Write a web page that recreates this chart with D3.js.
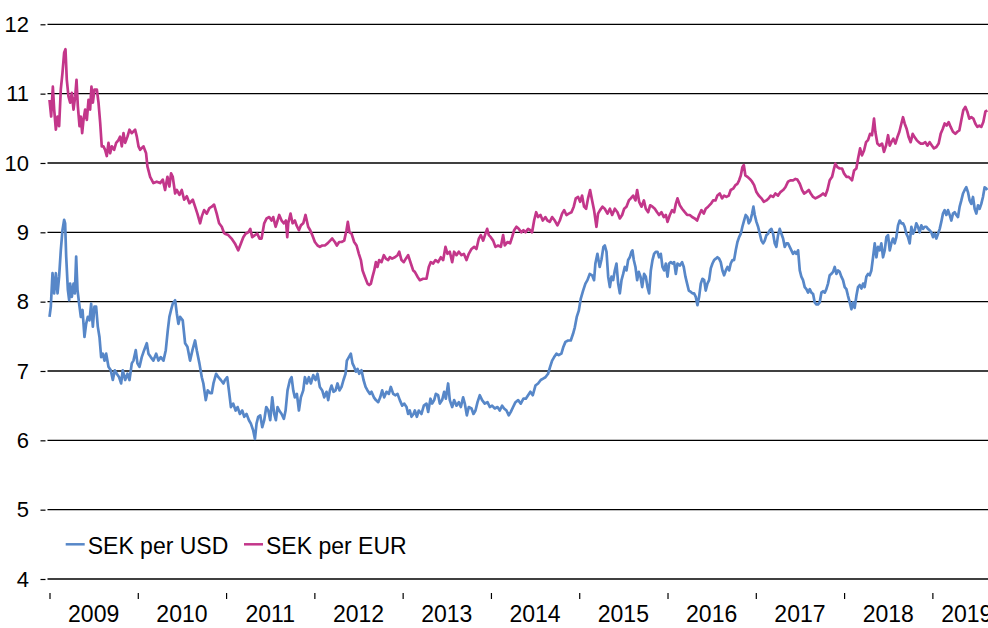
<!DOCTYPE html>
<html>
<head>
<meta charset="utf-8">
<script src="https://cdn.jsdelivr.net/npm/d3@7"></script>
<style>
  body { margin: 0; background: #fff; }
  svg { display: block; font-family: "Liberation Sans", Arial, sans-serif; }
</style>
</head>
<body>
<div id="chart"></div>
<script>
// [decimal year, SEK]
const sekPerUsd = [
  [2009.000,7.78],[2009.015,7.93],[2009.034,8.41],[2009.053,8.12],[2009.072,8.41],[2009.091,8.12],[2009.109,8.36],[2009.128,8.74],
  [2009.147,9.03],[2009.166,9.18],[2009.177,9.13],[2009.189,8.65],[2009.208,8.17],[2009.223,8.02],[2009.234,8.26],[2009.253,8.07],
  [2009.272,8.26],[2009.287,8.12],[2009.302,8.65],[2009.317,8.17],[2009.336,7.97],[2009.355,7.78],[2009.374,7.88],[2009.396,7.49],
  [2009.415,7.68],[2009.434,7.78],[2009.453,7.73],[2009.472,7.97],[2009.491,7.64],[2009.509,7.93],[2009.528,7.93],[2009.547,7.64],
  [2009.566,7.49],[2009.585,7.20],[2009.604,7.25],[2009.623,7.15],[2009.642,7.25],[2009.668,7.06],[2009.694,7.01],[2009.717,6.87],
  [2009.740,7.01],[2009.762,6.96],[2009.789,6.91],[2009.811,6.82],[2009.830,7.01],[2009.857,6.87],[2009.883,6.96],[2009.906,6.87],
  [2009.932,7.11],[2009.951,7.15],[2009.977,7.30],[2009.996,7.11],[2010.019,7.06],[2010.045,7.20],[2010.072,7.30],[2010.102,7.40],
  [2010.121,7.25],[2010.147,7.20],[2010.177,7.15],[2010.208,7.25],[2010.234,7.15],[2010.260,7.20],[2010.291,7.15],[2010.317,7.30],
  [2010.340,7.59],[2010.358,7.78],[2010.377,7.88],[2010.396,7.97],[2010.423,8.02],[2010.442,7.83],[2010.460,7.68],[2010.479,7.78],
  [2010.509,7.73],[2010.536,7.40],[2010.562,7.35],[2010.592,7.15],[2010.619,7.30],[2010.649,7.44],[2010.668,7.30],[2010.698,7.11],
  [2010.725,6.91],[2010.743,6.82],[2010.770,6.58],[2010.792,6.72],[2010.819,6.68],[2010.838,6.68],[2010.857,6.82],[2010.887,6.96],
  [2010.913,6.91],[2010.940,6.87],[2010.970,6.82],
  [2010.987,6.87],[2011.013,6.91],[2011.032,6.72],[2011.055,6.48],[2011.081,6.53],[2011.108,6.43],[2011.130,6.48],[2011.157,6.38],
  [2011.183,6.43],[2011.206,6.34],[2011.232,6.38],[2011.259,6.29],[2011.281,6.24],[2011.308,6.14],[2011.327,6.02],[2011.345,6.24],
  [2011.364,6.34],[2011.387,6.36],[2011.410,6.19],[2011.432,6.29],[2011.455,6.48],[2011.478,6.43],[2011.500,6.29],[2011.523,6.62],
  [2011.545,6.38],[2011.564,6.29],[2011.583,6.48],[2011.602,6.43],[2011.629,6.38],[2011.655,6.31],[2011.674,6.43],[2011.696,6.72],
  [2011.723,6.87],[2011.742,6.91],[2011.761,6.72],[2011.779,6.62],[2011.802,6.67],[2011.825,6.43],[2011.847,6.62],[2011.874,6.72],
  [2011.893,6.91],[2011.915,6.82],[2011.938,6.91],[2011.961,6.82],[2011.987,6.94],[2012.013,6.87],[2012.036,6.96],[2012.062,6.77],
  [2012.089,6.72],[2012.112,6.62],[2012.138,6.70],[2012.157,6.58],[2012.176,6.72],[2012.195,6.79],[2012.217,6.70],[2012.240,6.72],
  [2012.262,6.82],[2012.285,6.72],[2012.308,6.77],[2012.330,6.87],[2012.353,6.96],[2012.368,7.15],[2012.391,7.20],[2012.413,7.25],
  [2012.432,7.11],[2012.451,7.06],[2012.470,6.99],[2012.489,7.03],[2012.508,6.96],[2012.534,7.01],[2012.557,6.87],[2012.580,6.77],
  [2012.602,6.72],[2012.629,6.67],[2012.647,6.70],[2012.674,6.62],[2012.697,6.58],[2012.723,6.55],[2012.746,6.62],[2012.768,6.72],
  [2012.791,6.62],[2012.817,6.70],[2012.844,6.67],[2012.866,6.77],[2012.893,6.67],[2012.919,6.65],[2012.942,6.67],[2012.968,6.58],
  [2012.995,6.50],[2013.017,6.53],[2013.044,6.48],[2013.062,6.38],[2013.081,6.43],[2013.100,6.34],[2013.123,6.38],
  [2013.138,6.43],[2013.161,6.34],[2013.183,6.43],[2013.213,6.38],[2013.240,6.50],[2013.270,6.53],[2013.289,6.41],[2013.315,6.60],
  [2013.334,6.53],[2013.357,6.58],[2013.376,6.67],[2013.402,6.65],[2013.421,6.53],[2013.447,6.58],[2013.470,6.70],[2013.489,6.60],
  [2013.515,6.82],[2013.534,6.58],[2013.561,6.48],[2013.583,6.58],[2013.610,6.50],[2013.636,6.55],[2013.659,6.48],[2013.685,6.62],
  [2013.704,6.53],[2013.727,6.36],[2013.749,6.48],[2013.780,6.46],[2013.802,6.38],[2013.825,6.43],[2013.848,6.55],[2013.874,6.65],
  [2013.900,6.58],[2013.930,6.53],[2013.961,6.55],[2013.987,6.48],[2014.013,6.50],[2014.044,6.46],[2014.074,6.48],[2014.100,6.43],
  [2014.127,6.50],[2014.149,6.46],[2014.176,6.43],[2014.202,6.36],[2014.225,6.41],[2014.251,6.48],[2014.278,6.55],[2014.308,6.58],
  [2014.338,6.53],[2014.368,6.60],[2014.395,6.60],[2014.421,6.65],[2014.447,6.70],[2014.474,6.65],[2014.504,6.79],[2014.534,6.82],
  [2014.564,6.87],[2014.591,6.89],[2014.617,6.91],[2014.647,6.96],[2014.670,7.06],[2014.693,7.15],[2014.716,7.20],[2014.742,7.25],
  [2014.768,7.23],[2014.798,7.25],[2014.821,7.35],[2014.844,7.42],[2014.874,7.44],[2014.904,7.44],[2014.931,7.54],[2014.950,7.63],
  [2014.972,7.78],[2014.995,7.87],[2015.017,8.04],[2015.044,8.16],[2015.070,8.26],[2015.093,8.31],[2015.119,8.40],[2015.146,8.38],
  [2015.168,8.31],[2015.183,8.55],[2015.206,8.69],[2015.232,8.50],[2015.251,8.60],[2015.274,8.79],
  [2015.290,8.81],[2015.309,8.72],[2015.328,8.36],[2015.347,8.21],[2015.365,8.36],[2015.384,8.31],[2015.403,8.45],[2015.422,8.55],
  [2015.441,8.26],[2015.460,8.12],[2015.479,8.31],[2015.498,8.40],[2015.516,8.50],[2015.535,8.45],[2015.554,8.60],[2015.573,8.64],
  [2015.592,8.72],[2015.603,8.74],[2015.618,8.60],[2015.637,8.50],[2015.656,8.31],[2015.675,8.43],[2015.694,8.36],[2015.713,8.21],
  [2015.735,8.40],[2015.754,8.36],[2015.773,8.21],[2015.792,8.12],[2015.811,8.45],[2015.830,8.60],[2015.848,8.69],[2015.867,8.72],
  [2015.886,8.72],[2015.905,8.64],[2015.924,8.69],[2015.943,8.50],[2015.962,8.45],[2015.981,8.55],[2016.000,8.36],[2016.018,8.55],
  [2016.037,8.57],[2016.056,8.55],[2016.075,8.57],[2016.094,8.40],[2016.113,8.55],[2016.139,8.52],[2016.165,8.57],[2016.184,8.50],
  [2016.203,8.36],[2016.222,8.26],[2016.241,8.16],[2016.264,8.14],[2016.282,8.12],[2016.301,8.12],[2016.320,8.07],[2016.339,7.95],
  [2016.358,8.07],[2016.377,8.26],[2016.396,8.33],[2016.415,8.31],[2016.433,8.16],[2016.452,8.26],[2016.471,8.31],[2016.490,8.48],
  [2016.509,8.55],[2016.528,8.60],[2016.547,8.62],[2016.565,8.64],[2016.584,8.62],[2016.603,8.57],[2016.622,8.45],[2016.641,8.38],
  [2016.660,8.45],[2016.679,8.50],[2016.698,8.45],[2016.716,8.55],[2016.735,8.60],[2016.754,8.60],[2016.773,8.74],[2016.792,8.86],
  [2016.811,8.93],[2016.830,8.98],[2016.848,9.08],[2016.867,9.17],[2016.886,9.25],[2016.905,9.22],[2016.920,9.13],[2016.939,9.17],
  [2016.958,9.27],[2016.973,9.37],[2016.988,9.25],[2017.007,9.15],[2017.026,9.08],[2017.045,8.98],[2017.064,8.88],[2017.083,8.84],
  [2017.101,8.88],[2017.120,8.96],[2017.139,8.98],[2017.158,9.03],[2017.177,9.05],[2017.196,8.98],[2017.215,8.84],[2017.233,8.79],
  [2017.252,8.96],[2017.271,9.05],[2017.290,8.98],[2017.309,8.91],[2017.328,8.79],[2017.347,8.84],[2017.365,8.84],[2017.384,8.79],
  [2017.403,8.74],[2017.422,8.69],
  [2017.441,8.72],[2017.460,8.69],[2017.479,8.74],[2017.498,8.45],[2017.516,8.36],[2017.535,8.31],[2017.554,8.21],[2017.573,8.18],
  [2017.592,8.13],[2017.611,8.18],[2017.630,8.13],[2017.649,8.11],[2017.667,7.99],[2017.686,7.96],[2017.705,7.96],[2017.724,7.99],
  [2017.743,8.13],[2017.762,8.15],[2017.781,8.13],[2017.799,8.18],[2017.818,8.26],[2017.837,8.38],[2017.856,8.40],[2017.875,8.43],
  [2017.894,8.50],[2017.913,8.40],[2017.932,8.45],[2017.950,8.43],[2017.969,8.36],[2017.988,8.31],[2018.007,8.21],[2018.026,8.18],
  [2018.045,8.08],[2018.064,7.99],[2018.083,7.89],[2018.101,7.99],[2018.120,7.91],[2018.139,8.08],[2018.158,8.21],[2018.177,8.24],
  [2018.196,8.19],[2018.215,8.26],[2018.233,8.21],[2018.252,8.36],[2018.271,8.40],[2018.290,8.38],[2018.309,8.45],[2018.328,8.64],
  [2018.347,8.84],[2018.366,8.64],[2018.384,8.79],[2018.403,8.74],[2018.422,8.84],[2018.441,8.64],[2018.460,8.74],[2018.479,8.93],
  [2018.498,8.96],[2018.517,8.74],[2018.535,8.84],[2018.554,8.91],[2018.573,8.84],[2018.592,8.93],[2018.611,9.10],[2018.630,9.17],
  [2018.649,9.13],[2018.668,9.13],[2018.686,9.08],[2018.705,8.98],[2018.724,8.93],[2018.743,8.84],[2018.762,9.08],[2018.781,8.98],
  [2018.800,9.03],[2018.818,9.13],[2018.837,9.08],[2018.856,9.00],[2018.875,9.10],[2018.894,9.05],[2018.913,9.08],[2018.932,9.08],
  [2018.950,9.05],[2018.969,9.03],[2018.988,9.00],[2019.007,8.93],[2019.026,8.98],[2019.045,8.91],[2019.064,8.98],[2019.083,9.05],
  [2019.101,9.15],[2019.120,9.27],[2019.139,9.32],[2019.158,9.25],[2019.177,9.32],[2019.196,9.25],[2019.215,9.17],[2019.233,9.27],
  [2019.252,9.29],[2019.271,9.25],[2019.290,9.22],[2019.309,9.37],[2019.328,9.46],[2019.347,9.56],[2019.366,9.61],[2019.384,9.65],
  [2019.403,9.58],[2019.422,9.46],[2019.441,9.41],[2019.460,9.51],[2019.479,9.34],[2019.498,9.27],[2019.517,9.39],[2019.535,9.34],
  [2019.554,9.41],[2019.573,9.51],[2019.592,9.65],[2019.611,9.63],[2019.622,9.61]
];

const sekPerEur = [
  [2009.000,10.91],[2009.019,10.67],[2009.038,11.10],[2009.053,10.77],[2009.072,10.48],[2009.091,10.67],[2009.109,10.53],[2009.128,11.06],
  [2009.147,11.30],[2009.166,11.59],[2009.181,11.64],[2009.196,11.20],[2009.215,10.96],[2009.234,10.87],[2009.253,11.01],[2009.272,10.77],
  [2009.291,10.96],[2009.306,11.20],[2009.321,10.82],[2009.340,10.53],[2009.355,10.67],[2009.370,10.43],[2009.385,10.62],[2009.404,10.77],
  [2009.423,10.62],[2009.442,10.91],[2009.460,10.77],[2009.475,11.10],[2009.491,10.87],[2009.509,11.06],[2009.536,11.06],[2009.555,10.87],
  [2009.574,10.58],[2009.592,10.24],[2009.611,10.24],[2009.630,10.19],[2009.649,10.10],[2009.668,10.29],[2009.687,10.14],[2009.706,10.24],
  [2009.732,10.19],[2009.755,10.29],[2009.781,10.33],[2009.800,10.38],[2009.819,10.24],[2009.838,10.43],[2009.857,10.29],[2009.883,10.38],
  [2009.906,10.48],[2009.932,10.43],[2009.970,10.48],[2009.989,10.38],[2010.008,10.24],[2010.026,10.19],[2010.064,10.24],[2010.094,10.14],
  [2010.109,9.95],[2010.140,9.80],[2010.177,9.71],[2010.215,9.73],[2010.253,9.71],[2010.283,9.76],[2010.309,9.61],[2010.336,9.80],
  [2010.358,9.66],[2010.377,9.85],[2010.396,9.80],[2010.423,9.56],[2010.442,9.61],[2010.472,9.54],[2010.498,9.61],[2010.525,9.47],
  [2010.555,9.52],[2010.585,9.42],[2010.623,9.47],[2010.649,9.37],[2010.675,9.27],[2010.706,9.13],[2010.725,9.23],[2010.751,9.32],
  [2010.781,9.27],[2010.811,9.35],[2010.838,9.37],[2010.864,9.40],[2010.894,9.27],[2010.921,9.13],[2010.951,9.08],[2010.977,8.99],
  [2010.987,8.98],[2011.025,8.96],[2011.062,8.91],[2011.100,8.84],[2011.138,8.74],[2011.168,8.84],[2011.195,8.93],[2011.221,8.98],
  [2011.251,9.00],[2011.274,9.05],[2011.296,8.93],[2011.327,8.96],[2011.353,8.98],[2011.379,8.91],[2011.402,8.91],[2011.432,9.13],
  [2011.459,9.20],[2011.489,9.22],[2011.515,9.17],[2011.534,9.22],[2011.561,9.08],[2011.583,9.17],[2011.602,9.25],[2011.629,9.17],
  [2011.655,9.13],[2011.678,9.17],[2011.693,8.93],[2011.704,9.13],[2011.730,9.27],[2011.753,9.13],[2011.779,9.17],[2011.798,9.10],
  [2011.825,9.03],[2011.847,9.10],[2011.874,9.13],[2011.900,9.25],[2011.930,9.08],[2011.953,9.03],[2011.976,8.96],[2012.006,8.86],
  [2012.036,8.81],[2012.062,8.79],[2012.089,8.81],[2012.119,8.81],[2012.149,8.84],[2012.179,8.88],[2012.202,8.91],[2012.232,8.86],
  [2012.255,8.81],[2012.281,8.86],[2012.308,8.86],[2012.338,8.88],[2012.364,9.03],[2012.379,9.15],[2012.398,9.00],[2012.421,8.98],
  [2012.451,8.86],[2012.478,8.81],[2012.504,8.69],[2012.527,8.60],[2012.546,8.45],[2012.572,8.36],[2012.602,8.26],[2012.621,8.24],
  [2012.640,8.26],[2012.659,8.36],[2012.678,8.45],[2012.697,8.57],[2012.715,8.50],[2012.734,8.60],[2012.761,8.57],[2012.787,8.67],
  [2012.810,8.62],[2012.836,8.60],[2012.855,8.64],[2012.881,8.62],[2012.912,8.64],[2012.942,8.67],[2012.961,8.72],[2012.987,8.60],
  [2013.013,8.57],[2013.036,8.62],[2013.062,8.67],[2013.093,8.55],[2013.119,8.45],[2013.138,8.43],
  [2013.168,8.36],[2013.195,8.31],[2013.232,8.33],[2013.270,8.33],[2013.296,8.50],[2013.319,8.57],[2013.346,8.55],[2013.372,8.60],
  [2013.402,8.57],[2013.432,8.64],[2013.459,8.60],[2013.485,8.79],[2013.508,8.69],[2013.534,8.72],[2013.561,8.57],[2013.583,8.72],
  [2013.610,8.67],[2013.636,8.72],[2013.666,8.67],[2013.693,8.69],[2013.723,8.60],[2013.749,8.69],[2013.780,8.76],[2013.810,8.79],
  [2013.836,8.76],[2013.863,8.91],[2013.885,8.96],[2013.912,8.88],[2013.938,8.98],[2013.957,9.05],[2013.976,8.96],[2013.998,8.93],
  [2014.025,8.88],[2014.051,8.79],[2014.081,8.81],[2014.112,8.79],[2014.138,8.96],[2014.157,8.81],[2014.187,8.86],[2014.217,8.84],
  [2014.240,8.93],[2014.263,9.03],[2014.289,9.08],[2014.315,9.05],[2014.346,9.00],[2014.368,9.03],[2014.391,9.00],[2014.421,9.05],
  [2014.444,9.03],[2014.466,9.00],[2014.489,9.17],[2014.512,9.29],[2014.534,9.22],[2014.561,9.25],[2014.587,9.17],[2014.617,9.22],
  [2014.640,9.17],[2014.666,9.15],[2014.693,9.22],[2014.723,9.17],[2014.753,9.10],[2014.780,9.17],[2014.806,9.27],[2014.829,9.32],
  [2014.855,9.25],[2014.881,9.27],[2014.912,9.29],[2014.938,9.37],[2014.961,9.49],[2014.987,9.51],[2015.010,9.44],[2015.032,9.53],
  [2015.055,9.37],[2015.078,9.34],[2015.100,9.49],[2015.123,9.61],[2015.146,9.46],[2015.168,9.32],[2015.195,9.08],[2015.213,9.27],
  [2015.236,9.32],[2015.263,9.37],[2015.289,9.34],
  [2015.320,9.27],[2015.347,9.34],[2015.373,9.25],[2015.403,9.34],[2015.433,9.29],[2015.460,9.20],[2015.486,9.25],[2015.509,9.34],
  [2015.535,9.37],[2015.562,9.46],[2015.584,9.49],[2015.611,9.53],[2015.637,9.46],[2015.656,9.61],[2015.679,9.44],[2015.705,9.37],
  [2015.732,9.46],[2015.754,9.34],[2015.781,9.29],[2015.803,9.39],[2015.830,9.37],[2015.856,9.34],[2015.882,9.29],[2015.905,9.25],
  [2015.932,9.29],[2015.958,9.22],[2015.981,9.25],[2016.000,9.15],[2016.026,9.25],[2016.052,9.32],[2016.075,9.29],[2016.094,9.41],
  [2016.113,9.49],[2016.139,9.39],[2016.165,9.34],[2016.196,9.29],[2016.222,9.25],[2016.252,9.25],[2016.279,9.22],[2016.309,9.20],
  [2016.335,9.17],[2016.358,9.25],[2016.384,9.32],[2016.411,9.27],[2016.433,9.34],[2016.460,9.37],[2016.490,9.41],[2016.516,9.46],
  [2016.543,9.46],[2016.565,9.53],[2016.592,9.56],[2016.618,9.49],[2016.641,9.53],[2016.667,9.51],[2016.694,9.53],[2016.716,9.61],
  [2016.743,9.63],[2016.769,9.68],[2016.792,9.70],[2016.811,9.75],[2016.830,9.82],[2016.848,9.94],[2016.864,9.97],[2016.882,9.82],
  [2016.905,9.80],[2016.932,9.77],[2016.958,9.73],[2016.981,9.68],[2017.007,9.58],[2017.033,9.53],[2017.064,9.49],[2017.090,9.44],
  [2017.120,9.46],[2017.147,9.49],[2017.169,9.53],[2017.196,9.51],[2017.222,9.56],[2017.252,9.53],[2017.279,9.58],[2017.309,9.61],
  [2017.335,9.65],[2017.365,9.73],[2017.392,9.75],[2017.422,9.75],[2017.449,9.77],
  [2017.471,9.76],[2017.498,9.70],[2017.524,9.61],[2017.547,9.56],[2017.573,9.58],[2017.600,9.61],[2017.622,9.56],[2017.649,9.51],
  [2017.675,9.49],[2017.705,9.51],[2017.735,9.53],[2017.762,9.56],[2017.788,9.53],[2017.811,9.61],[2017.837,9.75],[2017.864,9.80],
  [2017.886,9.92],[2017.901,9.99],[2017.924,9.94],[2017.950,9.92],[2017.977,9.92],[2017.999,9.85],[2018.026,9.80],[2018.052,9.80],
  [2018.075,9.77],[2018.090,9.75],[2018.113,9.89],[2018.139,9.92],[2018.158,10.06],[2018.181,10.21],[2018.203,10.11],[2018.226,10.18],
  [2018.249,10.30],[2018.271,10.33],[2018.294,10.42],[2018.316,10.40],[2018.339,10.64],[2018.354,10.45],[2018.377,10.28],[2018.403,10.25],
  [2018.430,10.28],[2018.452,10.16],[2018.475,10.25],[2018.498,10.40],[2018.517,10.25],[2018.535,10.30],[2018.558,10.35],[2018.581,10.28],
  [2018.603,10.37],[2018.626,10.45],[2018.649,10.57],[2018.667,10.66],[2018.686,10.57],[2018.709,10.49],[2018.732,10.37],[2018.754,10.30],
  [2018.777,10.42],[2018.800,10.37],[2018.822,10.33],[2018.845,10.30],[2018.868,10.28],[2018.894,10.28],[2018.920,10.30],[2018.943,10.25],
  [2018.969,10.30],[2018.996,10.25],[2019.018,10.21],[2019.045,10.23],[2019.071,10.28],[2019.094,10.42],[2019.117,10.49],[2019.139,10.57],
  [2019.162,10.54],[2019.184,10.59],[2019.207,10.52],[2019.233,10.45],[2019.260,10.42],[2019.283,10.45],[2019.305,10.47],[2019.328,10.62],
  [2019.350,10.76],[2019.373,10.81],[2019.396,10.74],[2019.418,10.64],[2019.441,10.66],[2019.464,10.64],[2019.486,10.57],[2019.509,10.52],
  [2019.532,10.54],[2019.554,10.52],[2019.577,10.59],[2019.600,10.74],[2019.622,10.76]
];

const years = [2009, 2010, 2011, 2012, 2013, 2014, 2015, 2016, 2017, 2018, 2019];
const yTicks = [4, 5, 6, 7, 8, 9, 10, 11, 12];
const seriesNames = ["SEK per USD", "SEK per EUR"];
const seriesColors = ["#5787c8", "#c3368a"];

const width = 988, height = 628;
const axisEnd = 2019.78; // axis runs a little past the visible edge

const x = d3.scaleLinear().domain([2009, 2019.63]).range([49.5, 988]);
const y = d3.scaleLinear().domain([4, 12]).range([579, 24.3]);

const svg = d3.select("#chart").append("svg")
  .attr("width", width)
  .attr("height", height);

// gridlines
svg.append("g")
  .selectAll("line")
  .data(yTicks)
  .join("line")
  .attr("x1", 47.5)
  .attr("x2", width)
  .attr("y1", d => y(d))
  .attr("y2", d => y(d))
  .style("stroke", "#000")
  .style("stroke-width", 1.3);

// y axis ticks + labels
const yAxis = svg.append("g")
  .attr("transform", "translate(45.5,0)")
  .call(d3.axisLeft(y).tickValues(yTicks).tickSize(5).tickPadding(11.5).tickFormat(d3.format("d")));
yAxis.select(".domain").remove();
yAxis.selectAll(".tick line").style("stroke", "#000").style("stroke-width", 1.2);
yAxis.selectAll(".tick text")
  .style("font-size", "22px")
  .style("font-family", "'Liberation Sans', Arial, sans-serif")
  .style("fill", "#000");

// x axis: year boundary ticks, labels in between
const xAxis = svg.append("g")
  .attr("transform", "translate(0,593)")
  .call(d3.axisBottom(x).tickValues(years).tickSize(6).tickFormat(""));
xAxis.select(".domain").remove();
xAxis.selectAll(".tick line").style("stroke", "#000").style("stroke-width", 1.2);

svg.append("g")
  .selectAll("text")
  .data(years)
  .join("text")
  .attr("x", d => x((d + Math.min(d + 1, axisEnd)) / 2))
  .attr("y", 622)
  .attr("text-anchor", "middle")
  .style("font-size", "23px")
  .style("fill", "#000")
  .text(d => d);

// lines
const line = d3.line().x(d => x(d[0])).y(d => y(d[1]));

[sekPerUsd, sekPerEur].forEach((s, i) => {
  svg.append("path")
    .datum(s)
    .attr("d", line)
    .style("fill", "none")
    .style("stroke", seriesColors[i])
    .style("stroke-width", 2.7)
    .style("stroke-linejoin", "round");
});

// legend
const legendX = [65.7, 244];
const legend = svg.append("g")
  .selectAll("g")
  .data(seriesNames)
  .join("g")
  .attr("transform", (d, i) => `translate(${legendX[i]},544.3)`);

legend.append("line")
  .attr("x1", 0).attr("x2", 19)
  .style("stroke", (d, i) => seriesColors[i])
  .style("stroke-width", 2.5);

legend.append("text")
  .attr("x", 22)
  .attr("y", 9.7)
  .style("font-size", "23px")
  .style("fill", "#000")
  .text(d => d);
</script>
</body>
</html>
